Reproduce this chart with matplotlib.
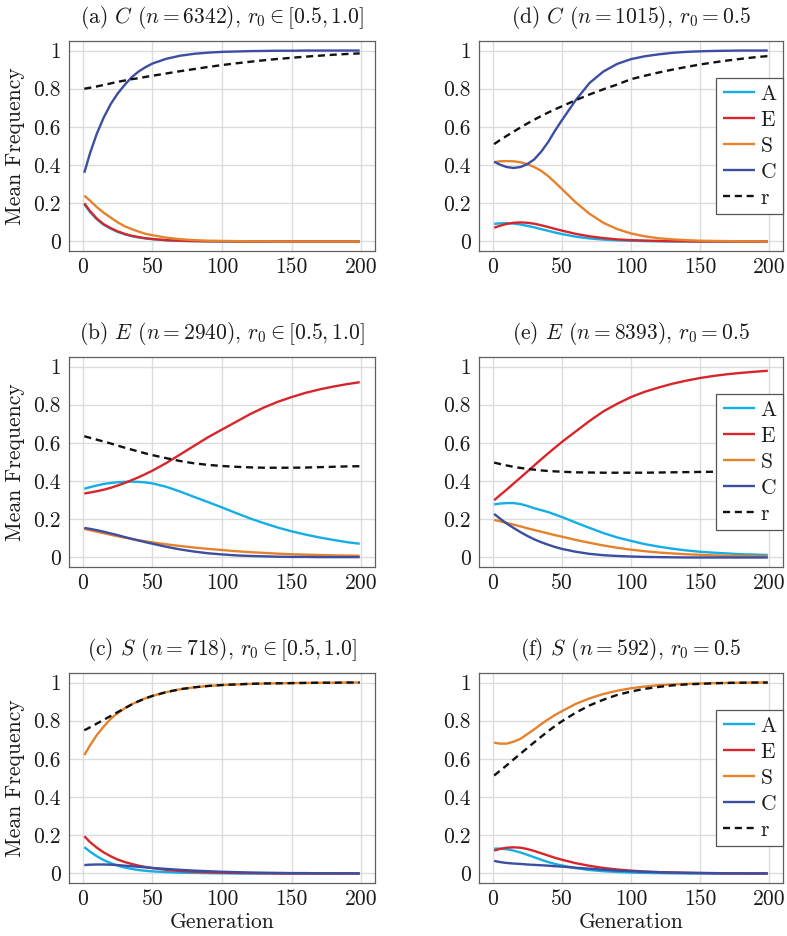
import matplotlib
matplotlib.use("Agg")
import matplotlib.pyplot as plt

plt.rcParams['font.family'] = ['cmr10', 'DejaVu Serif']
plt.rcParams['mathtext.fontset'] = 'cm'
plt.rcParams['axes.formatter.use_mathtext'] = True
plt.rcParams['axes.unicode_minus'] = False

# ---------------- data ----------------
gen = [1, 5, 10, 15, 20, 25, 30, 35, 40, 45, 50, 60, 70, 80, 90, 100,
       110, 120, 130, 140, 150, 160, 170, 180, 190, 199]

series_names = ['A', 'E', 'S', 'C', 'r']

# (a) C (n=6342), r0 in [0.5,1.0]
a_A = [0.195, 0.155, 0.116, 0.087, 0.067, 0.05, 0.038, 0.028, 0.021, 0.016, 0.012, 0.006, 0.003, 0.002, 0.001, 0.0,
       0, 0, 0, 0, 0, 0, 0, 0, 0, 0]
a_E = [0.20, 0.16, 0.12, 0.09, 0.07, 0.053, 0.04, 0.03, 0.023, 0.017, 0.013, 0.007, 0.004, 0.002, 0.001, 0.001,
       0, 0, 0, 0, 0, 0, 0, 0, 0, 0]
a_S = [0.24, 0.215, 0.18, 0.15, 0.125, 0.10, 0.08, 0.065, 0.052, 0.04, 0.033, 0.02, 0.012, 0.007, 0.004, 0.003,
       0.002, 0.001, 0.001, 0, 0, 0, 0, 0, 0, 0]
a_C = [0.36, 0.46, 0.565, 0.65, 0.72, 0.775, 0.82, 0.86, 0.89, 0.913, 0.932, 0.957, 0.973, 0.983, 0.989, 0.993,
       0.995, 0.997, 0.998, 0.999, 0.999, 1.0, 1.0, 1.0, 1.0, 1.0]
a_r = [0.80, 0.805, 0.812, 0.82, 0.828, 0.836, 0.843, 0.85, 0.855, 0.862, 0.868, 0.88, 0.892, 0.903, 0.914, 0.924,
       0.933, 0.941, 0.949, 0.956, 0.962, 0.968, 0.973, 0.978, 0.982, 0.985]

# (b) E (n=2940), r0 in [0.5,1.0]
b_A = [0.36, 0.368, 0.377, 0.385, 0.39, 0.394, 0.396, 0.397, 0.396, 0.393, 0.388, 0.37, 0.345, 0.317, 0.29, 0.262,
       0.233, 0.205, 0.18, 0.157, 0.137, 0.12, 0.105, 0.092, 0.08, 0.072]
b_E = [0.335, 0.34, 0.347, 0.355, 0.365, 0.377, 0.39, 0.405, 0.42, 0.437, 0.455, 0.495, 0.54, 0.585, 0.63, 0.67,
       0.71, 0.75, 0.785, 0.815, 0.84, 0.862, 0.88, 0.895, 0.908, 0.918]
b_S = [0.15, 0.143, 0.135, 0.127, 0.119, 0.111, 0.104, 0.097, 0.09, 0.085, 0.079, 0.069, 0.06, 0.052, 0.045, 0.039,
       0.033, 0.028, 0.024, 0.02, 0.017, 0.015, 0.013, 0.011, 0.01, 0.009]
b_C = [0.155, 0.15, 0.143, 0.135, 0.126, 0.117, 0.107, 0.098, 0.089, 0.08, 0.072, 0.056, 0.042, 0.031, 0.022, 0.016,
       0.011, 0.008, 0.006, 0.004, 0.003, 0.003, 0.002, 0.002, 0.002, 0.002]
b_r = [0.635, 0.627, 0.617, 0.607, 0.597, 0.586, 0.575, 0.565, 0.555, 0.545, 0.536, 0.52, 0.505, 0.493, 0.485, 0.479,
       0.475, 0.472, 0.47, 0.47, 0.47, 0.471, 0.473, 0.475, 0.477, 0.478]

# (c) S (n=718), r0 in [0.5,1.0]
c_A = [0.138, 0.115, 0.09, 0.07, 0.054, 0.041, 0.031, 0.024, 0.018, 0.014, 0.011, 0.007, 0.004, 0.003, 0.002, 0.001,
       0, 0, 0, 0, 0, 0, 0, 0, 0, 0]
c_E = [0.195, 0.165, 0.135, 0.11, 0.09, 0.073, 0.06, 0.05, 0.041, 0.034, 0.028, 0.019, 0.013, 0.009, 0.006, 0.004,
       0.003, 0.002, 0.001, 0, 0, 0, 0, 0, 0, 0]
c_S = [0.62, 0.67, 0.725, 0.77, 0.81, 0.84, 0.865, 0.885, 0.903, 0.918, 0.93, 0.95, 0.965, 0.975, 0.982, 0.987,
       0.99, 0.993, 0.995, 0.996, 0.997, 0.998, 0.999, 0.999, 1.0, 1.0]
c_C = [0.044, 0.046, 0.047, 0.047, 0.046, 0.044, 0.041, 0.038, 0.035, 0.032, 0.029, 0.024, 0.019, 0.015, 0.012, 0.009,
       0.007, 0.005, 0.004, 0.003, 0.002, 0.002, 0.001, 0.001, 0.001, 0.0]
c_r = [0.75, 0.765, 0.785, 0.805, 0.825, 0.845, 0.865, 0.885, 0.902, 0.917, 0.93, 0.95, 0.965, 0.975, 0.982, 0.987,
       0.99, 0.993, 0.995, 0.996, 0.997, 0.998, 0.999, 0.999, 1.0, 1.0]

# (d) C (n=1015), r0 = 0.5
d_A = [0.092, 0.095, 0.096, 0.094, 0.089, 0.082, 0.074, 0.065, 0.056, 0.047, 0.039, 0.025, 0.016, 0.01, 0.006, 0.004,
       0.002, 0.001, 0, 0, 0, 0, 0, 0, 0, 0]
d_E = [0.072, 0.082, 0.092, 0.098, 0.1, 0.098, 0.093, 0.085, 0.076, 0.066, 0.057, 0.04, 0.027, 0.018, 0.011, 0.007,
       0.005, 0.003, 0.002, 0.001, 0, 0, 0, 0, 0, 0]
d_S = [0.415, 0.42, 0.421, 0.42, 0.415, 0.405, 0.39, 0.37, 0.343, 0.31, 0.275, 0.205, 0.145, 0.098, 0.065, 0.042,
       0.027, 0.017, 0.011, 0.007, 0.004, 0.003, 0.002, 0.001, 0.001, 0.0]
d_C = [0.418, 0.403, 0.39, 0.385, 0.39, 0.405, 0.43, 0.47, 0.52, 0.58, 0.635, 0.74, 0.83, 0.89, 0.93, 0.955,
       0.97, 0.98, 0.988, 0.993, 0.996, 0.998, 0.999, 1.0, 1.0, 1.0]
d_r = [0.51, 0.53, 0.553, 0.575, 0.597, 0.618, 0.638, 0.657, 0.675, 0.692, 0.708, 0.74, 0.77, 0.797, 0.822, 0.85,
       0.868, 0.885, 0.9, 0.914, 0.927, 0.938, 0.948, 0.957, 0.965, 0.971]

# (e) E (n=8393), r0 = 0.5
e_A = [0.278, 0.282, 0.285, 0.285, 0.28, 0.27, 0.258, 0.248, 0.238, 0.225, 0.212, 0.183, 0.155, 0.128, 0.105, 0.087,
       0.07, 0.057, 0.046, 0.037, 0.03, 0.025, 0.021, 0.017, 0.015, 0.013]
e_E = [0.3, 0.325, 0.355, 0.387, 0.418, 0.45, 0.482, 0.514, 0.545, 0.575, 0.605, 0.66, 0.715, 0.765, 0.805, 0.84,
       0.868, 0.89, 0.91, 0.926, 0.94, 0.951, 0.96, 0.967, 0.973, 0.978]
e_S = [0.197, 0.19, 0.181, 0.172, 0.163, 0.153, 0.144, 0.135, 0.126, 0.117, 0.109, 0.092, 0.077, 0.063, 0.051, 0.041,
       0.033, 0.026, 0.021, 0.017, 0.014, 0.011, 0.009, 0.008, 0.007, 0.006]
e_C = [0.228, 0.205, 0.178, 0.155, 0.133, 0.113, 0.095, 0.08, 0.067, 0.055, 0.045, 0.03, 0.019, 0.012, 0.008, 0.005,
       0.003, 0.002, 0.001, 0, 0, 0, 0, 0, 0, 0]
e_r = [0.497, 0.49, 0.482, 0.475, 0.469, 0.464, 0.46, 0.456, 0.453, 0.451, 0.449, 0.446, 0.445, 0.444, 0.444, 0.444,
       0.444, 0.445, 0.446, 0.447, 0.448, 0.449, 0.45, 0.451, 0.452, 0.453]

# (f) S (n=592), r0 = 0.5
f_A = [0.13, 0.13, 0.127, 0.12, 0.11, 0.098, 0.085, 0.072, 0.06, 0.05, 0.042, 0.028, 0.018, 0.012, 0.008, 0.005,
       0.003, 0.002, 0.001, 0, 0, 0, 0, 0, 0, 0]
f_E = [0.12, 0.128, 0.135, 0.137, 0.135, 0.128, 0.118, 0.106, 0.094, 0.082, 0.072, 0.054, 0.04, 0.029, 0.021, 0.015,
       0.01, 0.007, 0.005, 0.003, 0.002, 0.001, 0, 0, 0, 0]
f_S = [0.685, 0.68, 0.68, 0.69, 0.705, 0.73, 0.755, 0.782, 0.807, 0.83, 0.85, 0.888, 0.917, 0.94, 0.957, 0.97,
       0.979, 0.986, 0.99, 0.993, 0.995, 0.997, 0.998, 0.999, 1.0, 1.0]
f_C = [0.066, 0.06, 0.055, 0.052, 0.05, 0.047, 0.045, 0.043, 0.041, 0.038, 0.036, 0.03, 0.025, 0.02, 0.015, 0.012,
       0.009, 0.007, 0.005, 0.004, 0.003, 0.002, 0.001, 0.001, 0.0, 0.0]
f_r = [0.513, 0.537, 0.566, 0.597, 0.627, 0.657, 0.687, 0.716, 0.745, 0.772, 0.797, 0.842, 0.88, 0.91, 0.935, 0.953,
       0.967, 0.977, 0.985, 0.99, 0.993, 0.996, 0.998, 0.999, 1.0, 1.0]

titles = [
    r"(a) $C$ $(n = 6342)$, $r_0 \in [0.5, 1.0]$",
    r"(b) $E$ $(n = 2940)$, $r_0 \in [0.5, 1.0]$",
    r"(c) $S$ $(n = 718)$, $r_0 \in [0.5, 1.0]$",
    r"(d) $C$ $(n = 1015)$, $r_0 = 0.5$",
    r"(e) $E$ $(n = 8393)$, $r_0 = 0.5$",
    r"(f) $S$ $(n = 592)$, $r_0 = 0.5$",
]

xticks = [0, 50, 100, 150, 200]
xtick_labels = ['0', '50', '100', '150', '200']
yticks = [0, 0.2, 0.4, 0.6, 0.8, 1.0]
ytick_labels = ['0', '0.2', '0.4', '0.6', '0.8', '1']
ylabel = 'Mean Frequency'
xlabel = 'Generation'

panels = [
    [a_A, a_E, a_S, a_C, a_r],
    [b_A, b_E, b_S, b_C, b_r],
    [c_A, c_E, c_S, c_C, c_r],
    [d_A, d_E, d_S, d_C, d_r],
    [e_A, e_E, e_S, e_C, e_r],
    [f_A, f_E, f_S, f_C, f_r],
]

# ---------------- style ----------------
colors = ['#14aee6', '#d7262b', '#e5822c', '#3b4ea2', '#111111']
styles = ['-', '-', '-', '-', (0, (3, 2))]
txt = '#1a1a1a'

fig = plt.figure(figsize=(7.87, 9.36), dpi=100)

lefts = [0.0877, 0.6086]
widths = [0.3888, 0.3863]
bottoms = [0.7318, 0.3942, 0.0566]
height = 0.2244

for i, (data, title) in enumerate(zip(panels, titles)):
    col, row = divmod(i, 3)
    ax = fig.add_axes([lefts[col], bottoms[row], widths[col], height])
    for vals, name, c, ls in zip(data, series_names, colors, styles):
        ax.plot(gen, vals, color=c, linestyle=ls, linewidth=1.7, label=name,
                solid_capstyle='butt', dash_capstyle='butt')
    ax.set_xlim(-10, 210)
    ax.set_ylim(-0.05, 1.05)
    ax.set_xticks(xticks)
    ax.set_xticklabels(xtick_labels)
    ax.set_yticks(yticks)
    ax.set_yticklabels(ytick_labels)
    ax.tick_params(length=0, labelsize=15.5, colors=txt, pad=6)
    ax.tick_params(axis='x', pad=5)
    ax.grid(True, color='#dcdcdc', linewidth=1.0)
    ax.set_axisbelow(True)
    for sp in ax.spines.values():
        sp.set_color('#606060')
        sp.set_linewidth(0.9)
    ax.set_title(title, fontsize=15.5, color=txt, pad=13)
    if col == 0:
        ax.set_ylabel(ylabel, fontsize=15.5, color=txt, labelpad=6)
    if row == 2:
        ax.set_xlabel(xlabel, fontsize=15.5, color=txt, labelpad=2)
    if col == 1:
        leg = ax.legend(loc='center right', borderaxespad=0.0, fontsize=15.5,
                        fancybox=False, framealpha=1.0, edgecolor='#555555',
                        handlelength=1.5, handletextpad=0.25, labelspacing=0.3,
                        borderpad=0.3)
        leg.get_frame().set_linewidth(0.9)
        leg.set_zorder(5)
        for t in leg.get_texts():
            t.set_color(txt)

fig.savefig('out.png', dpi=100)
